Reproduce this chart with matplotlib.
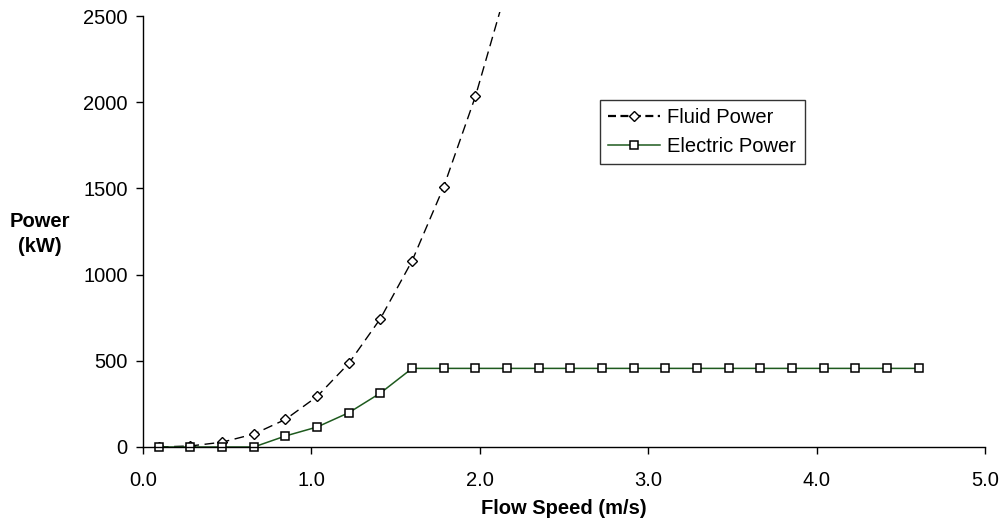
import matplotlib
matplotlib.use("Agg")
import matplotlib.pyplot as plt

plt.rcParams['font.family'] = ['Liberation Sans', 'DejaVu Sans']

# Data
flow_speed_fluid = [0.094, 0.282, 0.47, 0.658, 0.846, 1.034, 1.222, 1.41, 1.598, 1.786, 1.974, 2.162]
fluid_power = [0, 6, 28, 75, 160, 293, 485, 745, 1080, 1510, 2034, 2670]

flow_speed_elec = [0.094, 0.282, 0.47, 0.658, 0.846, 1.034, 1.222, 1.41, 1.598, 1.786,
                   1.974, 2.162, 2.35, 2.538, 2.726, 2.914, 3.102, 3.29, 3.478, 3.666,
                   3.854, 4.042, 4.23, 4.418, 4.61]
electric_power = [0, 0, 0, 0, 64, 116, 199, 313, 456, 456,
                  456, 456, 456, 456, 456, 456, 456, 456, 456, 456,
                  456, 456, 456, 456, 456]

x_ticks = [0.0, 1.0, 2.0, 3.0, 4.0, 5.0]
x_tick_labels = ["0.0", "1.0", "2.0", "3.0", "4.0", "5.0"]
y_ticks = [0, 500, 1000, 1500, 2000, 2500]

fig = plt.figure(figsize=(10.03, 5.20), dpi=100)
ax = fig.add_axes([143/1003, 1-447/520, (985-143)/1003, (447-11.7)/520])

green = '#1E5A1E'
ax.plot(flow_speed_fluid, fluid_power, color='black', lw=1.0, dashes=(7, 4),
        marker='D', markersize=5, markerfacecolor='white', markeredgecolor='black',
        markeredgewidth=1.0, label='Fluid Power', clip_on=True)
ax.plot(flow_speed_elec, electric_power, color=green, lw=1.1,
        marker='s', markersize=6, markerfacecolor='white', markeredgecolor='black',
        markeredgewidth=1.1, label='Electric Power', clip_on=False)

ax.set_xlim(0, 5)
ax.set_ylim(0, 2525)
ax.spines['top'].set_visible(False)
ax.spines['right'].set_visible(False)
ax.spines['left'].set_bounds(0, 2500)
for s in ('left', 'bottom'):
    ax.spines[s].set_linewidth(1.0)
ax.set_xticks(x_ticks)
ax.set_xticklabels(x_tick_labels)
ax.set_yticks(y_ticks)
ax.tick_params(axis='both', direction='out', length=5, width=1, labelsize=14.5, pad=6)
ax.tick_params(axis='x', pad=12)

ax.set_xlabel('Flow Speed (m/s)', fontsize=14.5, fontweight='bold', labelpad=7)
fig.text(40/1003, 1-234/520, 'Power\n(kW)', fontsize=14.5, fontweight='bold',
         ha='center', va='center', linespacing=1.45)

leg = ax.legend(loc='upper left', bbox_to_anchor=((600-143)/842, (447-100)/435.3),
                fontsize=14.5, frameon=True, fancybox=False, edgecolor='black',
                handlelength=2.6, handletextpad=0.35, borderpad=0.4, labelspacing=0.48,
                borderaxespad=0)
leg.get_frame().set_linewidth(1.0)
fl = leg.get_lines()[0]
fl.set_linewidth(1.6)
fl.set_dashes((3.6, 2.0))

fig.savefig('out.png', dpi=100)
